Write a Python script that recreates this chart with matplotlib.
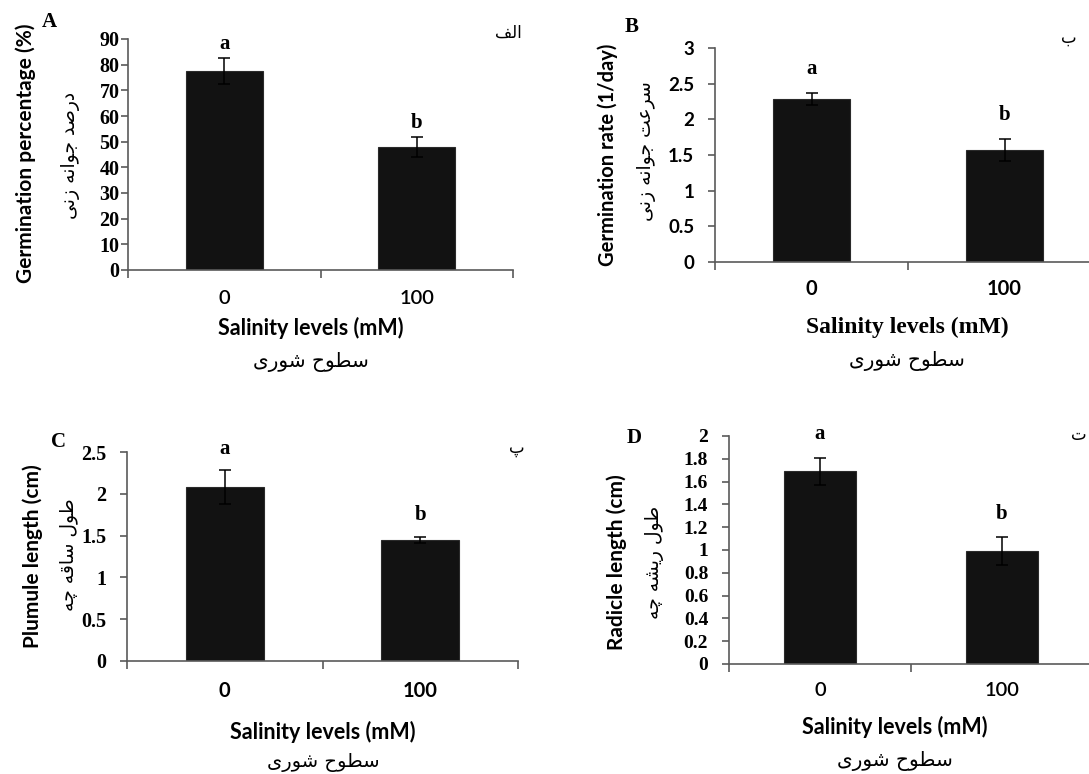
import numpy as np
import matplotlib
matplotlib.use('Agg')
from matplotlib import pyplot as plt

# données
categories = ['0', '100']
letters = ['a', 'b']

germ_pct = [77.6, 47.8]
germ_pct_err = [5.0, 3.9]
germ_rate = [2.29, 1.57]
germ_rate_err = [0.085, 0.16]
plumule = [2.08, 1.45]
plumule_err = [0.205, 0.038]
radicle = [1.69, 0.99]
radicle_err = [0.12, 0.12]

yticks_A = [0, 10, 20, 30, 40, 50, 60, 70, 80, 90]
yticks_B = [0, 0.5, 1, 1.5, 2, 2.5, 3]
yticks_C = [0, 0.5, 1, 1.5, 2, 2.5]
yticks_D = [0, 0.2, 0.4, 0.6, 0.8, 1, 1.2, 1.4, 1.6, 1.8, 2]

ylabel_en = ['Germination percentage (%)', 'Germination rate (1/day)',
             'Plumule length (cm)', 'Radicle length (cm)']
ylabel_fa = ['درصد جوانه زنی', 'سرعت جوانه زنی', 'طول ساقه چه', 'طول ریشه چه']
xlabel_en = 'Salinity levels (mM)'
xlabel_fa = 'سطوح شوری'
panel_en = ['A', 'B', 'C', 'D']
panel_fa = ['الف', 'ب', 'پ', 'ت']

# formes contextuelles (isolée, finale, initiale, médiane)
FORMS = {
    '\u0627': ('\uFE8D', '\uFE8E', None, None),
    '\u0628': ('\uFE8F', '\uFE90', '\uFE91', '\uFE92'),
    '\u067E': ('\uFB56', '\uFB57', '\uFB58', '\uFB59'),
    '\u062A': ('\uFE95', '\uFE96', '\uFE97', '\uFE98'),
    '\u062C': ('\uFE9D', '\uFE9E', '\uFE9F', '\uFEA0'),
    '\u0686': ('\uFB7A', '\uFB7B', '\uFB7C', '\uFB7D'),
    '\u062D': ('\uFEA1', '\uFEA2', '\uFEA3', '\uFEA4'),
    '\u062F': ('\uFEA9', '\uFEAA', None, None),
    '\u0631': ('\uFEAD', '\uFEAE', None, None),
    '\u0632': ('\uFEAF', '\uFEB0', None, None),
    '\u0633': ('\uFEB1', '\uFEB2', '\uFEB3', '\uFEB4'),
    '\u0634': ('\uFEB5', '\uFEB6', '\uFEB7', '\uFEB8'),
    '\u0635': ('\uFEB9', '\uFEBA', '\uFEBB', '\uFEBC'),
    '\u0637': ('\uFEC1', '\uFEC2', '\uFEC3', '\uFEC4'),
    '\u0639': ('\uFEC9', '\uFECA', '\uFECB', '\uFECC'),
    '\u0641': ('\uFED1', '\uFED2', '\uFED3', '\uFED4'),
    '\u0642': ('\uFED5', '\uFED6', '\uFED7', '\uFED8'),
    '\u0644': ('\uFEDD', '\uFEDE', '\uFEDF', '\uFEE0'),
    '\u0646': ('\uFEE5', '\uFEE6', '\uFEE7', '\uFEE8'),
    '\u0647': ('\uFEE9', '\uFEEA', '\uFEEB', '\uFEEC'),
    '\u0648': ('\uFEED', '\uFEEE', None, None),
    '\u06CC': ('\uFBFC', '\uFBFD', '\uFBFE', '\uFBFF'),
}


def fa(text):
    out = []
    for i, ch in enumerate(text):
        if ch not in FORMS:
            out.append(ch)
            continue
        prev = text[i - 1] if i > 0 else ''
        nxt = text[i + 1] if i + 1 < len(text) else ''
        iso, fin, ini, med = FORMS[ch]
        jp = prev in FORMS and FORMS[prev][2] is not None
        jn = ini is not None and nxt in FORMS
        if jp and jn:
            out.append(med)
        elif jp:
            out.append(fin)
        elif jn:
            out.append(ini)
        else:
            out.append(iso)
    return ''.join(reversed(out))


W, H = 1089, 774
serif = 'Liberation Serif'
sans = 'Lato'
arabic = 'DejaVu Sans'
spine_c = '#5a5a5a'

fig = plt.figure(figsize=(W / 100, H / 100), dpi=100)


def txt(x, y, s, **kw):
    fig.text(x / W, 1 - y / H, s, ha='center', va='center', **kw)


def panel(box, vals, errs, yticks, ytick_font, ytick_size, ytick_pad, xtick_pad, xtick_weight, letter_pad):
    left, top, right, bottom = box
    ax = fig.add_axes([left / W, 1 - bottom / H, (right - left) / W, (bottom - top) / H])
    x = np.array([0.5, 1.5])
    ax.bar(x, vals, width=0.4, color='#121212', edgecolor='#2a2a2a', linewidth=0.8, zorder=2)
    ax.errorbar(x, vals, yerr=errs, fmt='none', ecolor='black', elinewidth=1.1,
                capsize=4.5, capthick=1.1, zorder=3)
    for xi, v, e, l in zip(x, vals, errs, letters):
        ax.annotate(l, (xi, v + e), xytext=(0, letter_pad), textcoords='offset points',
                    ha='center', va='bottom', fontfamily=serif, fontweight='bold', fontsize=15)
    ax.set_xlim(0, 2)
    ax.set_ylim(0, yticks[-1])
    ax.set_yticks(yticks)
    ax.set_yticklabels([f'{t:g}' for t in yticks], fontfamily=ytick_font,
                       fontweight='bold', fontsize=ytick_size)
    ax.set_xticks([0, 1, 2])
    ax.set_xticklabels([])
    ax.set_xticks(x, minor=True)
    ax.set_xticklabels(categories, minor=True, fontfamily=sans, fontweight=xtick_weight, fontsize=14.5)
    ax.tick_params(axis='x', which='major', direction='out', length=5.5, width=1.2, color=spine_c)
    ax.tick_params(axis='x', which='minor', length=0, pad=xtick_pad)
    ax.tick_params(axis='y', direction='out', length=5, width=1.2, color=spine_c, pad=ytick_pad)
    for s in ['top', 'right']:
        ax.spines[s].set_visible(False)
    for s in ['left', 'bottom']:
        ax.spines[s].set_color(spine_c)
        ax.spines[s].set_linewidth(1.2)
    return ax


# A
panel((128, 39, 513, 270), germ_pct, germ_pct_err, yticks_A, serif, 14.5, 1, 14.5, 'semibold', 3)
txt(49, 22, panel_en[0], fontfamily=serif, fontweight='bold', fontsize=15)
txt(508, 33, fa(panel_fa[0]), fontfamily=arabic, fontsize=12)
txt(26, 153, ylabel_en[0], rotation=90, fontfamily=sans, fontweight='bold', fontsize=15)
txt(70, 155, fa(ylabel_fa[0]), rotation=90, fontfamily=arabic, fontsize=13.5)
txt(311, 328, xlabel_en, fontfamily=sans, fontweight='bold', fontsize=15.5)
txt(311, 362, fa(xlabel_fa), fontfamily=arabic, fontsize=14.5)

# B
panel((715, 48, 1101, 262), germ_rate, germ_rate_err, yticks_B, sans, 13.5, 10, 12.5, 'bold', 10)
txt(632, 27, panel_en[1], fontfamily=serif, fontweight='bold', fontsize=15)
txt(1069, 38, fa(panel_fa[1]), fontfamily=arabic, fontsize=12)
txt(608, 155, ylabel_en[1], rotation=90, fontfamily=sans, fontweight='bold', fontsize=14.5)
txt(646, 151, fa(ylabel_fa[1]), rotation=90, fontfamily=arabic, fontsize=13.5)
txt(907, 327, xlabel_en, fontfamily=serif, fontweight='bold', fontsize=17)
txt(907, 361, fa(xlabel_fa), fontfamily=arabic, fontsize=14.5)

# C
panel((127, 452, 518, 661), plumule, plumule_err, yticks_C, serif, 14.5, 10, 14.5, 'bold', 8)
txt(58, 442, panel_en[2], fontfamily=serif, fontweight='bold', fontsize=15)
txt(517, 448, fa(panel_fa[2]), fontfamily=arabic, fontsize=12)
txt(33, 556, ylabel_en[2], rotation=90, fontfamily=sans, fontweight='bold', fontsize=15)
txt(68, 555, fa(ylabel_fa[2]), rotation=90, fontfamily=arabic, fontsize=13.5)
txt(323, 732, xlabel_en, fontfamily=sans, fontweight='bold', fontsize=15.5)
txt(323, 762, fa(xlabel_fa), fontfamily=arabic, fontsize=14)

# D
panel((729, 436, 1093, 664), radicle, radicle_err, yticks_D, serif, 14, 10, 13, 'semibold', 10)
txt(634, 438, panel_en[3], fontfamily=serif, fontweight='bold', fontsize=15)
txt(1079, 435, fa(panel_fa[3]), fontfamily=arabic, fontsize=12)
txt(617, 562, ylabel_en[3], rotation=90, fontfamily=sans, fontweight='bold', fontsize=15)
txt(655, 562, fa(ylabel_fa[3]), rotation=90, fontfamily=arabic, fontsize=13.5)
txt(895, 727, xlabel_en, fontfamily=sans, fontweight='bold', fontsize=15.5)
txt(895, 761, fa(xlabel_fa), fontfamily=arabic, fontsize=14.5)

plt.savefig('out.png', dpi=100)
